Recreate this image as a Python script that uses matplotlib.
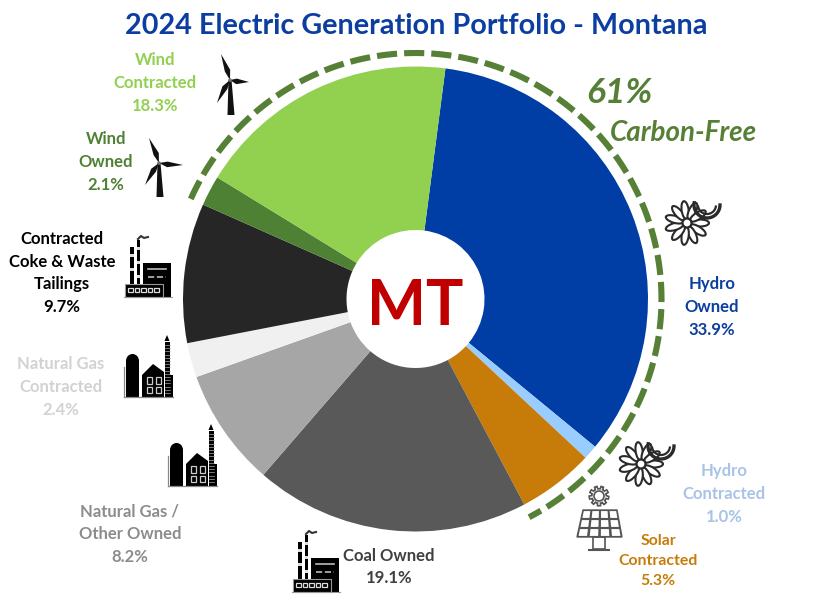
import numpy as np
import matplotlib
matplotlib.use("Agg")
import matplotlib.pyplot as plt
from matplotlib.patches import Circle, Ellipse, Polygon, Rectangle

plt.rcParams['font.family'] = ['Lato', 'DejaVu Sans']

# pie data, clockwise from the hydro slice
names = ["Hydro Owned", "Hydro Contracted", "Solar Contracted", "Coal Owned",
         "Natural Gas / Other Owned", "Natural Gas Contracted",
         "Contracted Coke & Waste Tailings", "Wind Owned", "Wind Contracted"]
shares = [33.9, 1.0, 5.3, 19.1, 8.2, 2.4, 9.7, 2.1, 18.3]
colors = ["#003DA5", "#99CCFF", "#C77C0A", "#595959", "#A6A6A6", "#F0F0F0",
          "#262626", "#4F8135", "#92D050"]

# label text, centre of the text block, colour
labels = ["Hydro\nOwned\n33.9%", "Hydro\nContracted\n1.0%", "Solar\nContracted\n5.3%",
          "Coal Owned\n19.1%", "Natural Gas /\nOther Owned\n8.2%",
          "Natural Gas\nContracted\n2.4%", "Contracted\nCoke & Waste\nTailings\n9.7%",
          "Wind\nOwned\n2.1%", "Wind\nContracted\n18.3%"]
label_x = [712, 724, 658, 389, 130, 61, 62, 106, 155]
label_y = [307, 494, 561, 567, 534, 387, 273, 162, 83]
label_sizes = [12, 12, 11.4, 12, 12, 12, 12, 12, 12]
label_colors = ["#0B3EA0", "#A9C3E6", "#C77C0A", "#404040", "#8C8C8C", "#D2D2D2",
                "#000000", "#4F8135", "#92D050"]

cx, cy = 415.5, 299
radius = 232.5
hole = 69

fig = plt.figure(figsize=(8.15, 6.16), dpi=100)
ax = fig.add_axes([0, 0, 1, 1])

# y axis runs downward so everything below can use pixel positions
ax.pie(shares, colors=colors, startangle=-82.6, counterclock=True,
       center=(cx, cy), radius=radius,
       wedgeprops=dict(width=radius - hole, linewidth=0))
ax.set_xlim(0, 815)
ax.set_ylim(616, 0)
ax.set_aspect('equal')
ax.axis('off')

# dashed carbon free ring
ang = np.radians(np.linspace(-66, 152.5, 400))
ax.plot(cx + 246 * np.sin(ang), cy - 246 * np.cos(ang), color="#558035", lw=4.4,
        linestyle=(0, (3.3, 1.15)), dash_capstyle='butt')

for t, x, y, s, c in zip(labels, label_x, label_y, label_sizes, label_colors):
    ax.text(x, y, t, color=c, fontsize=s, fontweight='bold', ha='center', va='center',
            linespacing=1.52)

ax.text(416.5, 26, "2024 Electric Generation Portfolio - Montana", color="#0B3EA0", fontsize=20.7,
        fontweight='bold', ha='center', va='center')
ax.text(619, 93, "61%", color="#558035", fontsize=25.5, fontweight='bold', style='italic',
        ha='center', va='center')
ax.text(683, 133, "Carbon-Free", color="#558035", fontsize=20, fontweight='bold', style='italic',
        ha='center', va='center')
ax.text(415.5, 307, "MT", color="#C00000", fontsize=45, fontweight='bold', ha='center', va='center')


def blade(hub, tip, w):
    hub = np.array(hub, float)
    tip = np.array(tip, float)
    d = tip - hub
    n = np.array([-d[1], d[0]]) / np.hypot(*d)
    pts = [hub, hub + d * 0.35 + n * w, tip, hub + d * 0.35 - n * w * 0.6]
    ax.add_patch(Polygon(pts, closed=True, fc="#111111", ec='none'))


def turbine(hub, up, right, down, base):
    blade(hub, up, 3.5)
    blade(hub, right, 3.5)
    blade(hub, down, 3.5)
    ax.add_patch(Polygon([(hub[0] - 1.5, hub[1]), (hub[0] + 1.5, hub[1]),
                          (base[0] + 3.5, base[1]), (base[0] - 3.5, base[1])], fc="#111111", ec='none'))
    ax.add_patch(Circle(hub, 1.8, fc="#777777", ec='none'))


def factory(x, y):
    # x, y = left edge and bottom of the icon
    k = "#000000"
    ax.add_patch(Rectangle((x + 18, y - 34), 28, 34, fc=k, ec='none'))
    for ly, ls in ((-28, '-'), (-20, '--')):
        ax.plot([x + 23, x + 41], [y + ly, y + ly], color="#bbbbbb", lw=1.2, ls=ls)
    ax.plot([x - 1, x + 47], [y, y], color="#999999", lw=0.8)
    for cxx, top in ((x + 7, y - 50), (x + 13.5, y - 57)):
        ax.add_patch(Rectangle((cxx - 1.8, top), 3.6, y - 13 - top, fc=k, ec='none'))
        for yy in np.arange(top + 7, y - 15, 14):
            ax.add_patch(Rectangle((cxx - 1.8, yy), 3.6, 3, fc="#dddddd", ec='none'))
    ax.plot([x + 13, x + 16, x + 19, x + 23], [y - 58, y - 61, y - 59, y - 60], color="#333333", lw=1.5)
    ax.add_patch(Rectangle((x, y - 13), 38, 13, fc=k, ec="#999999", lw=0.8))
    for i in range(5):
        ax.add_patch(Rectangle((x + 3 + i * 6.6, y - 9.5), 4.5, 4.5, fc=k, ec="#dddddd", lw=0.9))


def gas_plant(x, y):
    # x, y = left edge and bottom of the icon
    k = "#000000"
    ax.add_patch(Rectangle((x, y - 36), 13, 36, fc=k, ec='none'))
    ax.add_patch(Ellipse((x + 6.5, y - 36), 13, 14, fc=k, ec='none'))
    ax.plot([x - 2, x - 2], [y, y - 30], color="#888888", lw=0.9)
    ax.plot([x - 2, x + 47], [y, y], color="#888888", lw=0.9)
    ax.add_patch(Polygon([(x + 16, y), (x + 16, y - 22), (x + 27, y - 33), (x + 38, y - 25), (x + 38, y)],
                         fc=k, ec='none'))
    for wx in (x + 20.5, x + 29.5):
        for wy in (y - 20, y - 10.5):
            ax.add_patch(Rectangle((wx, wy), 5, 6.5, fc=k, ec="#cccccc", lw=0.9))
    ax.add_patch(Rectangle((x + 38.5, y - 55), 5, 55, fc=k, ec='none'))
    for yy in np.arange(y - 52, y - 1, 3.2):
        ax.plot([x + 38.5, x + 43.5], [yy, yy], color="#aaaaaa", lw=0.5)
    ax.add_patch(Polygon([(x + 38.5, y - 56), (x + 41, y - 62), (x + 43.5, y - 56)], fc=k, ec='none'))
    ax.add_patch(Rectangle((x + 44, y - 22), 3, 22, fc=k, ec='none'))


def hydro(x, y):
    # x, y = centre of the wheel
    for a in np.arange(0, 360, 360 / 11):
        r = np.radians(a)
        ax.add_patch(Ellipse((x + 13 * np.cos(r), y + 13 * np.sin(r)), 18, 7, angle=a,
                             fc='white', ec="#2a2a2a", lw=1.5))
    ax.add_patch(Circle((x, y), 4.5, fc='white', ec="#2a2a2a", lw=1.6))
    # swirl at the upper right
    for r0, w, a0, a1 in ((13, 2.4, 0, 190), (9, 1.6, 10, 170)):
        t = np.radians(np.linspace(a0, a1, 30))
        ax.plot(x + 20 + r0 * np.cos(t), y - 18 + r0 * np.sin(t), color="#2a2a2a", lw=w)


def solar(x, y):
    # x, y = centre of the sun
    g = "#555555"
    t = np.radians(np.arange(0, 360, 3))
    r = 8.5 + 1.3 * np.sign(np.sin(t * 9))
    ax.add_patch(Polygon(np.c_[x + r * np.cos(t), y + r * np.sin(t)], fc='white', ec=g, lw=1.2))
    ax.add_patch(Circle((x, y), 5, fc='white', ec=g, lw=1.2))
    top, bot = y + 14, y + 41
    ax.add_patch(Rectangle((x - 6, bot), 12, 12, fc='white', ec=g, lw=1.2))
    ax.plot([x - 10, x + 10], [bot + 13, bot + 13], color=g, lw=1.5)
    ax.add_patch(Polygon([(x - 16, top), (x + 18, top), (x + 23, bot), (x - 22, bot)], fc=g, ec=g, lw=1))
    for i in range(3):
        for j in range(4):
            v = (i + 0.12) / 3, (i + 0.88) / 3
            u = (j + 0.12) / 4, (j + 0.88) / 4
            pts = []
            for uu, vv in ((u[0], v[0]), (u[1], v[0]), (u[1], v[1]), (u[0], v[1])):
                left = x - 16 - 6 * vv
                right = x + 18 + 5 * vv
                pts.append((left + (right - left) * uu, top + (bot - top) * vv))
            ax.add_patch(Polygon(pts, fc='white', ec='none'))


turbine((230, 80), (221, 54), (249, 82), (217, 103), (231, 115))
turbine((159, 163), (149, 138), (183, 165), (145, 185), (160, 197))
factory(125, 297)
factory(293, 592)
gas_plant(126, 397)
gas_plant(170, 486)
hydro(687, 223)
hydro(641, 464)
solar(599, 496)

fig.savefig("out.png", dpi=100, facecolor='white')
